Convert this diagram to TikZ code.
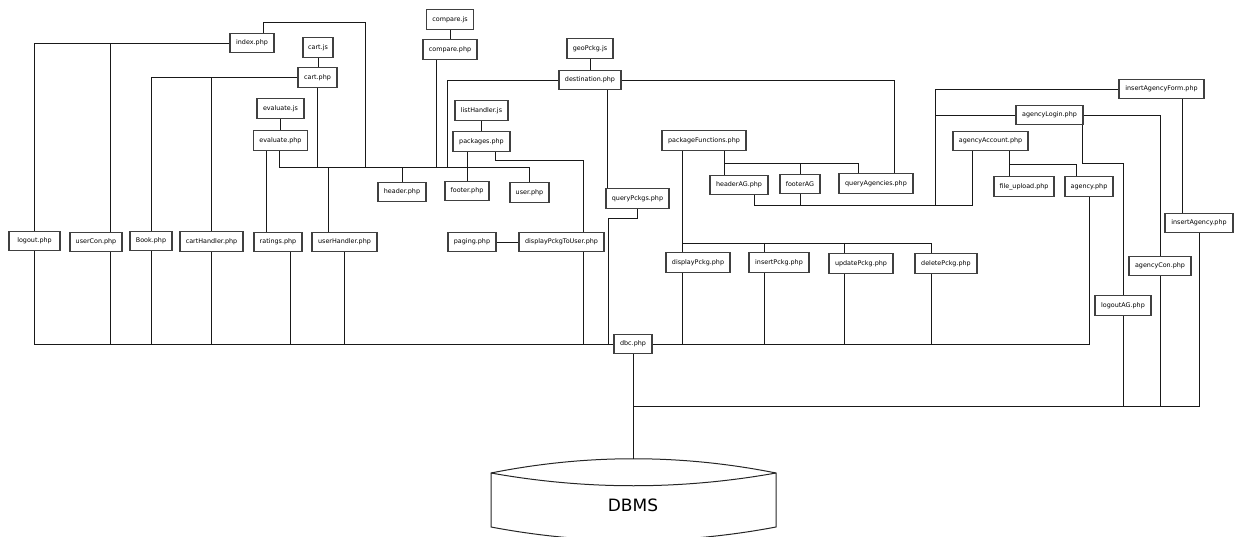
\documentclass[tikz,border=0pt]{standalone}
\usepackage{fontspec}
\newfontfamily\labelfont{DejaVu Sans}
\begin{document}
\begin{tikzpicture}[x=1pt,y=-1pt,
  box/.style={draw=black!75, line width=1.2pt, fill=white, inner sep=0pt,
    minimum height=19.5pt, font=\labelfont\fontsize{6.4}{7}\selectfont},
  wire/.style={draw=black!90, line width=0.9pt},
  dbshape/.style={draw=black!85, line width=1pt}
]
\useasboundingbox (0,0) rectangle (1234,537);

% ---- file nodes ----
\node[box, minimum width=44pt] (index) at (252,43) {index.php};
\node[box, minimum width=30pt] (cartjs) at (318,47.5) {cart.js};
\node[box, minimum width=39pt] (cartphp) at (317.5,77.5) {cart.php};
\node[box, minimum width=47pt] (evaljs) at (280.5,108.5) {evaluate.js};
\node[box, minimum width=54pt] (evalphp) at (280.5,140.5) {evaluate.php};
\node[box, minimum width=47pt] (comparejs) at (450,19.5) {compare.js};
\node[box, minimum width=54pt] (comparephp) at (450,49.5) {compare.php};
\node[box, minimum width=46pt] (geojs) at (590,48.5) {geoPckg.js};
\node[box, minimum width=62pt] (dest) at (590,80) {destination.php};
\node[box, minimum width=53pt] (listjs) at (481.5,110.5) {listHandler.js};
\node[box, minimum width=57pt] (packages) at (481.5,141.5) {packages.php};
\node[box, minimum width=48pt] (header) at (402,192) {header.php};
\node[box, minimum width=44pt] (footer) at (467,191) {footer.php};
\node[box, minimum width=39pt] (user) at (529.5,192.5) {user.php};
\node[box, minimum width=63pt] (queryPckgs) at (637.5,198.5) {queryPckgs.php};
\node[box, minimum width=48pt] (paging) at (472,242) {paging.php};
\node[box, minimum width=85pt] (dispUser) at (561.5,242) {displayPckgToUser.php};
\node[box, minimum width=65pt] (userHandler) at (344.5,242) {userHandler.php};
\node[box, minimum width=51pt] (logout) at (34.5,241) {logout.php};
\node[box, minimum width=52pt] (userCon) at (96,242) {userCon.php};
\node[box, minimum width=42pt] (book) at (151,241) {Book.php};
\node[box, minimum width=63pt] (cartHandler) at (211.5,241.5) {cartHandler.php};
\node[box, minimum width=48pt] (ratings) at (278,242) {ratings.php};
\node[box, minimum width=38pt] (dbc) at (633,344) {dbc.php};
\node[box, minimum width=58pt] (headerAG) at (739,185) {headerAG.php};
\node[box, minimum width=40pt] (footerAG) at (800,184) {footerAG};
\node[box, minimum width=74pt] (queryAg) at (876,183.5) {queryAgencies.php};
\node[box, minimum width=84pt] (pkgFunc) at (704,140.5) {packageFunctions.php};
\node[box, minimum width=64pt] (dispPckg) at (698,262.5) {displayPckg.php};
\node[box, minimum width=60pt] (insertPckg) at (779,262.5) {insertPckg.php};
\node[box, minimum width=64pt] (updatePckg) at (861,263.5) {updatePckg.php};
\node[box, minimum width=62pt] (deletePckg) at (946,263.5) {deletePckg.php};
\node[box, minimum width=85pt] (insAgForm) at (1161.5,89) {insertAgencyForm.php};
\node[box, minimum width=67pt] (agLogin) at (1049.5,115) {agencyLogin.php};
\node[box, minimum width=75pt] (agAccount) at (990.5,141) {agencyAccount.php};
\node[box, minimum width=60pt] (fileUpload) at (1024,186.5) {file\_upload.php};
\node[box, minimum width=48pt] (agency) at (1089,186.5) {agency.php};
\node[box, minimum width=68pt] (insertAgency) at (1199,223) {insertAgency.php};
\node[box, minimum width=62pt] (agCon) at (1160,266) {agencyCon.php};
\node[box, minimum width=56pt] (logoutAG) at (1123,305.5) {logoutAG.php};

% ---- database drum ----
\coordinate (dbtop) at (633,459);
\draw[dbshape] (491,473) .. controls (586,454) and (681,454) .. (776,473)
  -- (776,527) .. controls (681,545) and (586,545) .. (491,527) -- cycle;
\draw[dbshape] (491,473) .. controls (586,490) and (681,490) .. (776,473);
\node[font=\labelfont\fontsize{17}{20}\selectfont] (dbms) at (633,505.5) {DBMS};

% ---- script / page pairs ----
\draw[wire] (cartjs.south) -- (cartjs.south |- cartphp.north);
\draw[wire] (evaljs.south) -- (evaljs.south |- evalphp.north);
\draw[wire] (comparejs.south) -- (comparejs.south |- comparephp.north);
\draw[wire] (geojs.south) -- (geojs.south |- dest.north);
\draw[wire] (listjs.south) -- (listjs.south |- packages.north);
\draw[wire] (paging.east) -- (dispUser.west);

% ---- user side includes ----
\draw[wire] (index.west) -| (logout.north);
\draw[wire] (index.west) -| (userCon.north -| 110,0);
\draw[wire] (cartphp.west) -| (book.north);
\draw[wire] (cartphp.west) -| (cartHandler.north);
\draw[wire] (evalphp.south -| 266,0) -- (ratings.north -| 266,0);

% header / footer bus
\draw[wire] (evalphp.south -| 279,0) -- (279,167) -| (user.north);
\draw[wire] (cartphp.south) -- (cartphp.south |- 0,167);
\draw[wire] (index.north -| 263,0) |- (365,22) -- (365,167);
\draw[wire] (header.north) -- (header.north |- 0,167);
\draw[wire] (comparephp.south -| 436,0) -- (436,167);
\draw[wire] (dest.west) -| (447,167);
\draw[wire] (userHandler.north -| 328,0) -- (328,167);
\draw[wire] (packages.south -| footer.north) -- (footer.north);
\draw[wire] (packages.south -| 495,0) |- (583,160) -- (dispUser.north -| 583,0);
\draw[wire] (dest.south -| 607,0) -- (queryPckgs.north -| 607,0);
\draw[wire] (dest.east) -| (queryAg.north -| 894,0);

% ---- package functions ----
\draw[wire] (pkgFunc.south -| 682,0) -- (dispPckg.north -| 682,0);
\draw[wire] (682,243) -| (deletePckg.north -| 931,0);
\draw[wire] (764,243) -- (insertPckg.north -| 764,0);
\draw[wire] (844,243) -- (updatePckg.north -| 844,0);
\draw[wire] (pkgFunc.south -| 724,0) -- (headerAG.north -| 724,0);
\draw[wire] (724,163) -| (queryAg.north -| 858,0);
\draw[wire] (footerAG.north) -- (footerAG.north |- 0,163);

% ---- agency side ----
\draw[wire] (headerAG.south -| 754,0) |- (972,205) -- (agAccount.south -| 972,0);
\draw[wire] (footerAG.south) -- (footerAG.south |- 0,205);
\draw[wire] (insAgForm.west) -| (935,205);
\draw[wire] (agLogin.west) -- (agLogin.west -| 935,0);
\draw[wire] (agLogin.east) -| (agCon.north);
\draw[wire] (agLogin.south -| 1082,0) |- (1123,163) -- (logoutAG.north);
\draw[wire] (agAccount.south -| 1009,0) -- (fileUpload.north -| 1009,0);
\draw[wire] (1009,164) -| (agency.north -| 1076,0);
\draw[wire] (insAgForm.south -| 1182,0) -- (insertAgency.north -| 1182,0);

% ---- connection bus to dbc.php ----
\draw[wire] (logout.south) |- (dbc.west);
\draw[wire] (dbc.east) -| (agency.south);
\draw[wire] (userCon.south -| 110,0) -- (110,344);
\draw[wire] (book.south) -- (book.south |- dbc.west);
\draw[wire] (cartHandler.south) -- (cartHandler.south |- dbc.west);
\draw[wire] (ratings.south -| 290,0) -- (290,344);
\draw[wire] (userHandler.south) -- (userHandler.south |- dbc.west);
\draw[wire] (dispUser.south -| 583,0) -- (583,344);
\draw[wire] (queryPckgs.south) |- (608,218) -- (608,344);
\draw[wire] (dispPckg.south -| 682,0) -- (682,344);
\draw[wire] (insertPckg.south -| 764,0) -- (764,344);
\draw[wire] (updatePckg.south -| 844,0) -- (844,344);
\draw[wire] (deletePckg.south -| 931,0) -- (931,344);

% ---- lower bus and database link ----
\draw[wire] (dbc.south) -- (dbtop);
\draw[wire] (dbc.south |- 0,406) -| (insertAgency.south);
\draw[wire] (logoutAG.south) -- (logoutAG.south |- 0,406);
\draw[wire] (agCon.south) -- (agCon.south |- 0,406);
\end{tikzpicture}
\end{document}
